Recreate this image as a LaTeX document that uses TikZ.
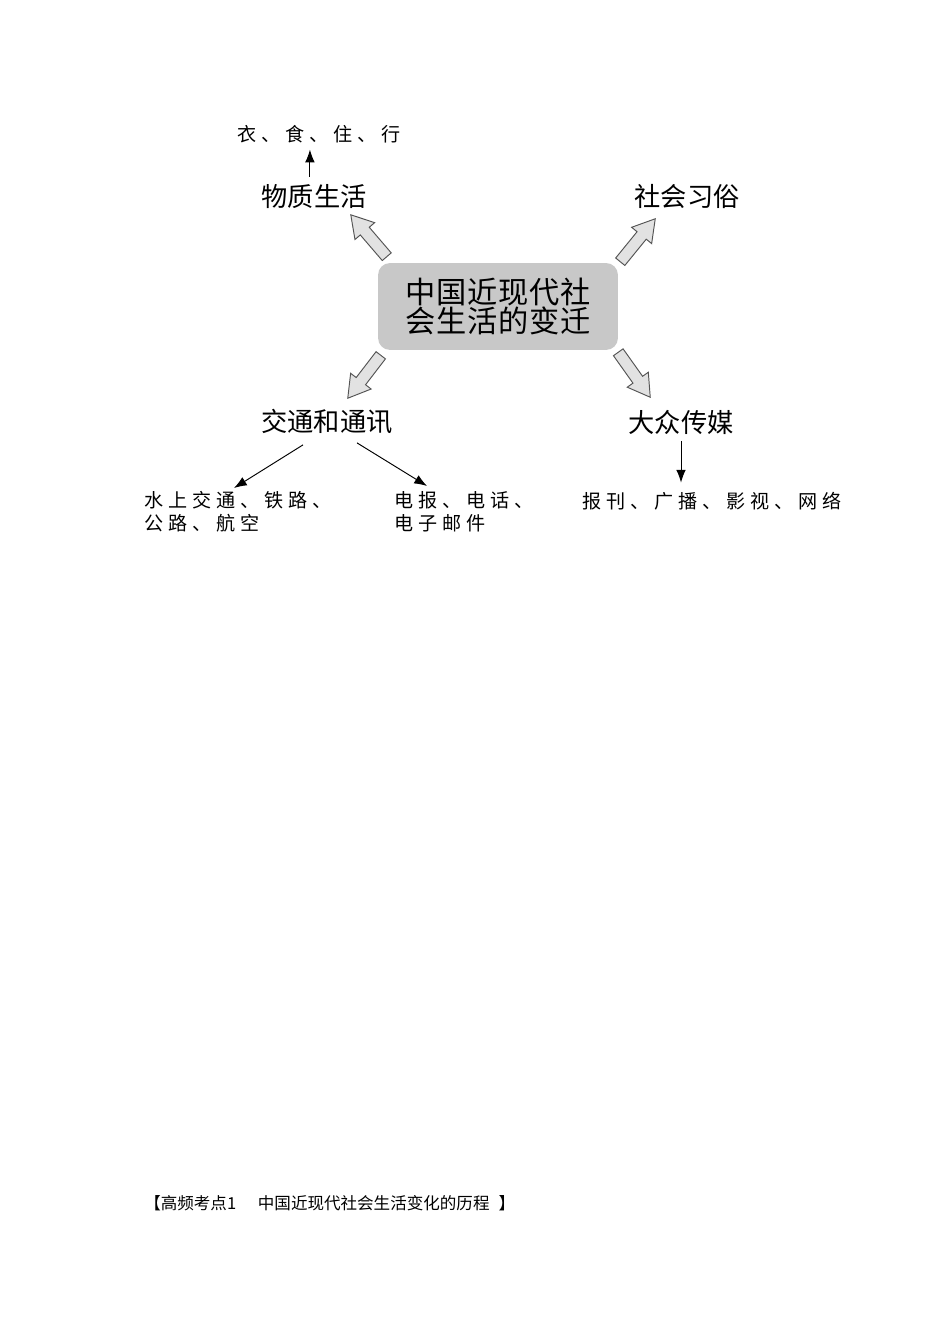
\documentclass[tikz,border=0pt]{standalone}
\usepackage{fontspec}
\newfontfamily\cjk{Noto Sans CJK SC}
\newfontfamily\cjktopic{Noto Sans CJK SC}[LetterSpace=3]
\newfontfamily\cjkwide{Noto Sans CJK SC}[LetterSpace=26]
\usetikzlibrary{positioning,arrows.meta,calc,shapes.arrows}
\definecolor{boxgray}{HTML}{C8C8C8}
\definecolor{arrowgray}{HTML}{E2E2E2}
\definecolor{arrowline}{HTML}{555555}

\tikzset{
  topicbox/.style={fill=boxgray, rounded corners=7.5pt, minimum width=5.3cm, minimum height=1.92cm,
    align=center, font=\cjktopic\fontsize{19pt}{18.3pt}\selectfont},
  sublabel/.style={font=\cjk\fontsize{16.5pt}{18pt}\selectfont, inner sep=2pt},
  detail/.style={font=\cjkwide\fontsize{12pt}{14.5pt}\selectfont, align=left, inner sep=0pt},
  fatarrow/.style={single arrow, draw=arrowline, fill=arrowgray, line width=0.6pt,
    inner xsep=0pt, inner ysep=0.12cm, minimum width=0pt, single arrow head extend=0.155cm,
    single arrow tip angle=62, outer sep=0pt},
  thinarrow/.style={-{Latex[length=8pt,width=6pt]}, line width=0.6pt}
}

% block arrow from #1 to #2
\newcommand{\blockarrow}[2]{%
  \path let \p1=($(#2)-(#1)$), \n1={atan2(\y1,\x1)}, \n2={veclen(\x1,\y1)} in
    node[fatarrow, rotate=\n1, minimum height=\n2, anchor=tail] at (#1) {};}

\begin{document}
\begin{tikzpicture}[x=0.0221cm, y=-0.0221cm]
  \useasboundingbox (0,0) rectangle (950,1344);

  % centre topic
  \node[topicbox] (topic) at (498,306.5) {中国近现代社\\会生活的变迁};

  % four areas
  \node[sublabel] (wuzhi) at (314,197) {物质生活};
  \node[sublabel] (xisu) at (687,197) {社会习俗};
  \node[sublabel] (jiaotong) at (327,422) {交通和通讯};
  \node[sublabel] (chuanmei) at (681,422) {大众传媒};

  % details
  \node[detail, anchor=west] (yishi) at (237,134) {衣、食、住、行};
  \node[detail, anchor=north west] (jiaotu) at (144,491) {水上交通、铁路、\\公路、航空};
  \node[detail, anchor=north west] (tongxun) at (394,491) {电报、电话、\\电子邮件};
  \node[detail, anchor=west] (meiti) at (582,501) {报刊、广播、影视、网络};

  \node[anchor=west, inner sep=0pt, font=\cjk\fontsize{10.4pt}{12pt}\selectfont] (kaodian)
    at (144,1203) {【高频考点1\hspace{0.48cm}中国近现代社会生活变化的历程\hspace{0.2cm}】};

  % block arrows out of the topic box
  \coordinate (ul0) at ($(topic.north west)+(9,-6)$);
  \coordinate (ul1) at ($(topic.north west)+(-27,-48)$);
  \coordinate (ur0) at ($(topic.north east)+(2,-1)$);
  \coordinate (ur1) at ($(topic.north east)+(37,-44)$);
  \coordinate (ll0) at ($(topic.south west)+(3,5)$);
  \coordinate (ll1) at ($(topic.south west)+(-30,48)$);
  \coordinate (lr0) at ($(topic.south east)+(0,2)$);
  \coordinate (lr1) at ($(topic.south east)+(32,47)$);
  \blockarrow{ul0}{ul1}
  \blockarrow{ur0}{ur1}
  \blockarrow{ll0}{ll1}
  \blockarrow{lr0}{lr1}

  % thin arrows
  \draw[thinarrow, shorten <=3pt, shorten >=4pt] ([xshift=-0.09cm]wuzhi.north) -- ([xshift=-0.09cm]wuzhi.north |- yishi.south);
  \draw[thinarrow] ($(jiaotong.south)+(-24,7)$) -- ($(jiaotu.north west)+(90,-3)$);
  \draw[thinarrow] ($(jiaotong.south)+(30,5)$) -- ($(tongxun.north west)+(33,-5)$);
  \draw[thinarrow, shorten <=2pt, shorten >=0.2cm] (chuanmei.south) -- (chuanmei.south |- meiti.north);
\end{tikzpicture}
\end{document}
